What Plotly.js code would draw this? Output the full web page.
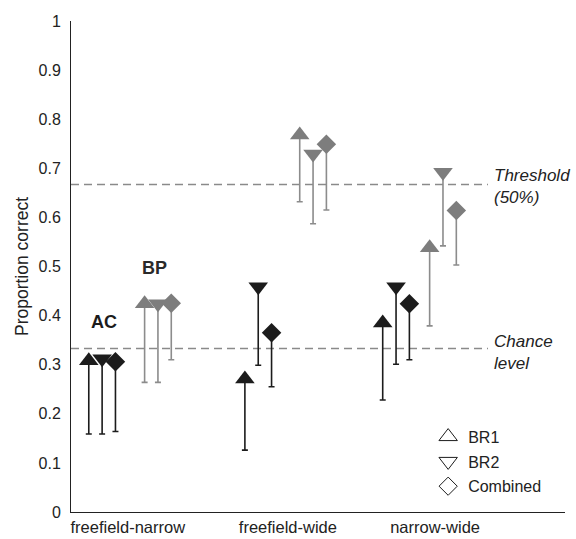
<!DOCTYPE html>
<html>
<head>
<meta charset="utf-8">
<script src="https://cdn.plot.ly/plotly-3.0.1.min.js"></script>
<style>html,body{margin:0;padding:0;background:#fff;}#chart{width:576px;height:539px;}</style>
</head>
<body>
<div id="chart"></div>
<script>
// ---- data ----
const categories = ['freefield-narrow', 'freefield-wide', 'narrow-wide'];
const tickPos = [1.15, 4.39, 7.37];     // x position of category labels (axis units)
const acPos = [0.63, 3.79, 6.58];       // centre of AC cluster
const bpPos = [1.76, 4.90, 7.53];       // centre of BP cluster
const measures = ['BR1', 'BR2', 'Combined'];

const acBR1 = [0.308, 0.271, 0.385];
const acBR1Lo = [0.159, 0.126, 0.228];
const acBR2 = [0.312, 0.459, 0.459];
const acBR2Lo = [0.159, 0.299, 0.301];
const acComb = [0.306, 0.365, 0.424];
const acCombLo = [0.164, 0.255, 0.310];

const bpBR1 = [0.424, 0.768, 0.538];
const bpBR1Lo = [0.264, 0.632, 0.379];
const bpBR2 = [0.424, 0.729, 0.692];
const bpBR2Lo = [0.264, 0.587, 0.542];
const bpComb = [0.425, 0.749, 0.614];
const bpCombLo = [0.310, 0.615, 0.503];

const thresholdLevel = 0.667;
const chanceLevel = 0.333;

// ---- styles ----
const BLACK = '#1c1c1c';
const GRAY = '#7d7d7d';
const GRAYBAR = '#8c8c8c';
const symbols = {BR1: 'triangle-up', BR2: 'triangle-down', Combined: 'diamond'};
const sizes = {BR1: 17, BR2: 17, Combined: 15};
const offsets = {BR1: -0.27, BR2: 0, Combined: 0.27};
const FONT = 'Liberation Sans, Arial, Helvetica, sans-serif';

function mk(pos, vals, lo, meas, color, barColor) {
  return {
    type: 'scatter', mode: 'markers', showlegend: false, hoverinfo: 'skip',
    x: pos.map(p => p + offsets[meas]),
    y: vals,
    marker: {symbol: symbols[meas], size: sizes[meas], color: color, line: {width: 0}},
    error_y: {type: 'data', symmetric: false, array: vals.map(() => 0),
      arrayminus: vals.map((v, i) => v - lo[i]), color: barColor, thickness: 1.6, width: 3}
  };
}

const traces = [
  mk(acPos, acBR1, acBR1Lo, 'BR1', BLACK, BLACK),
  mk(acPos, acBR2, acBR2Lo, 'BR2', BLACK, BLACK),
  mk(acPos, acComb, acCombLo, 'Combined', BLACK, BLACK),
  mk(bpPos, bpBR1, bpBR1Lo, 'BR1', GRAY, GRAYBAR),
  mk(bpPos, bpBR2, bpBR2Lo, 'BR2', GRAY, GRAYBAR),
  mk(bpPos, bpComb, bpCombLo, 'Combined', GRAY, GRAYBAR)
];

measures.forEach((m, i) => {
  traces.push({
    type: 'scatter', mode: 'markers', name: m, x: [null], y: [null],
    legendgroup: 'g' + i, showlegend: true,
    marker: {symbol: symbols[m] + '-open', size: m === 'Combined' ? 14 : 16, color: BLACK, line: {width: 1, color: BLACK}}
  });
});

const layout = {
  width: 576, height: 539,
  margin: {l: 71, r: 11, t: 21, b: 27},
  paper_bgcolor: '#fff', plot_bgcolor: '#fff',
  font: {family: FONT, size: 16, color: '#222'},
  showlegend: true,
  legend: {x: 0.723, y: 0.188, xanchor: 'left', yanchor: 'top', bgcolor: 'rgba(0,0,0,0)',
    font: {family: FONT, size: 16, color: '#222'}, tracegroupgap: 1, itemwidth: 30},
  xaxis: {range: [0, 10], showgrid: false, zeroline: false, showline: true, linecolor: '#222', linewidth: 1,
    ticks: '', tickmode: 'array', tickvals: tickPos, ticktext: categories,
    tickfont: {family: FONT, size: 16.5, color: '#222'}, fixedrange: true},
  yaxis: {range: [0, 1], showgrid: false, zeroline: false, showline: true, linecolor: '#222', linewidth: 1,
    ticks: '', dtick: 0.1, tick0: 0, ticklabelstandoff: 6,
    tickfont: {family: FONT, size: 16, color: '#222'},
    title: {text: 'Proportion correct', font: {family: FONT, size: 17.5, color: '#222'}, standoff: 5}},
  shapes: [
    {type: 'line', xref: 'x', yref: 'y', x0: 0, x1: 8.44, y0: thresholdLevel, y1: thresholdLevel,
      line: {color: '#8a8a8a', width: 1.5, dash: '8px,5px'}, layer: 'below'},
    {type: 'line', xref: 'x', yref: 'y', x0: 0, x1: 8.44, y0: chanceLevel, y1: chanceLevel,
      line: {color: '#8a8a8a', width: 1.5, dash: '8px,5px'}, layer: 'below'}
  ],
  annotations: [
    {text: '<b>AC</b>', x: 0.67, y: 0.387, xref: 'x', yref: 'y', showarrow: false,
      font: {family: FONT, size: 18, color: '#1c1c1c'}},
    {text: '<b>BP</b>', x: 1.70, y: 0.497, xref: 'x', yref: 'y', showarrow: false,
      font: {family: FONT, size: 18, color: '#2a2a2a'}},
    {text: '<i>Threshold</i><br><i>(50%)</i>', x: 8.52, y: 0.663, xref: 'x', yref: 'y', showarrow: false,
      xanchor: 'left', yanchor: 'middle', align: 'left', font: {family: FONT, size: 17, color: '#222'}},
    {text: '<i>Chance</i><br><i>level</i>', x: 8.52, y: 0.325, xref: 'x', yref: 'y', showarrow: false,
      xanchor: 'left', yanchor: 'middle', align: 'left', font: {family: FONT, size: 17, color: '#222'}}
  ]
};

Plotly.newPlot('chart', traces, layout, {displayModeBar: false, staticPlot: true});
</script>
</body>
</html>
